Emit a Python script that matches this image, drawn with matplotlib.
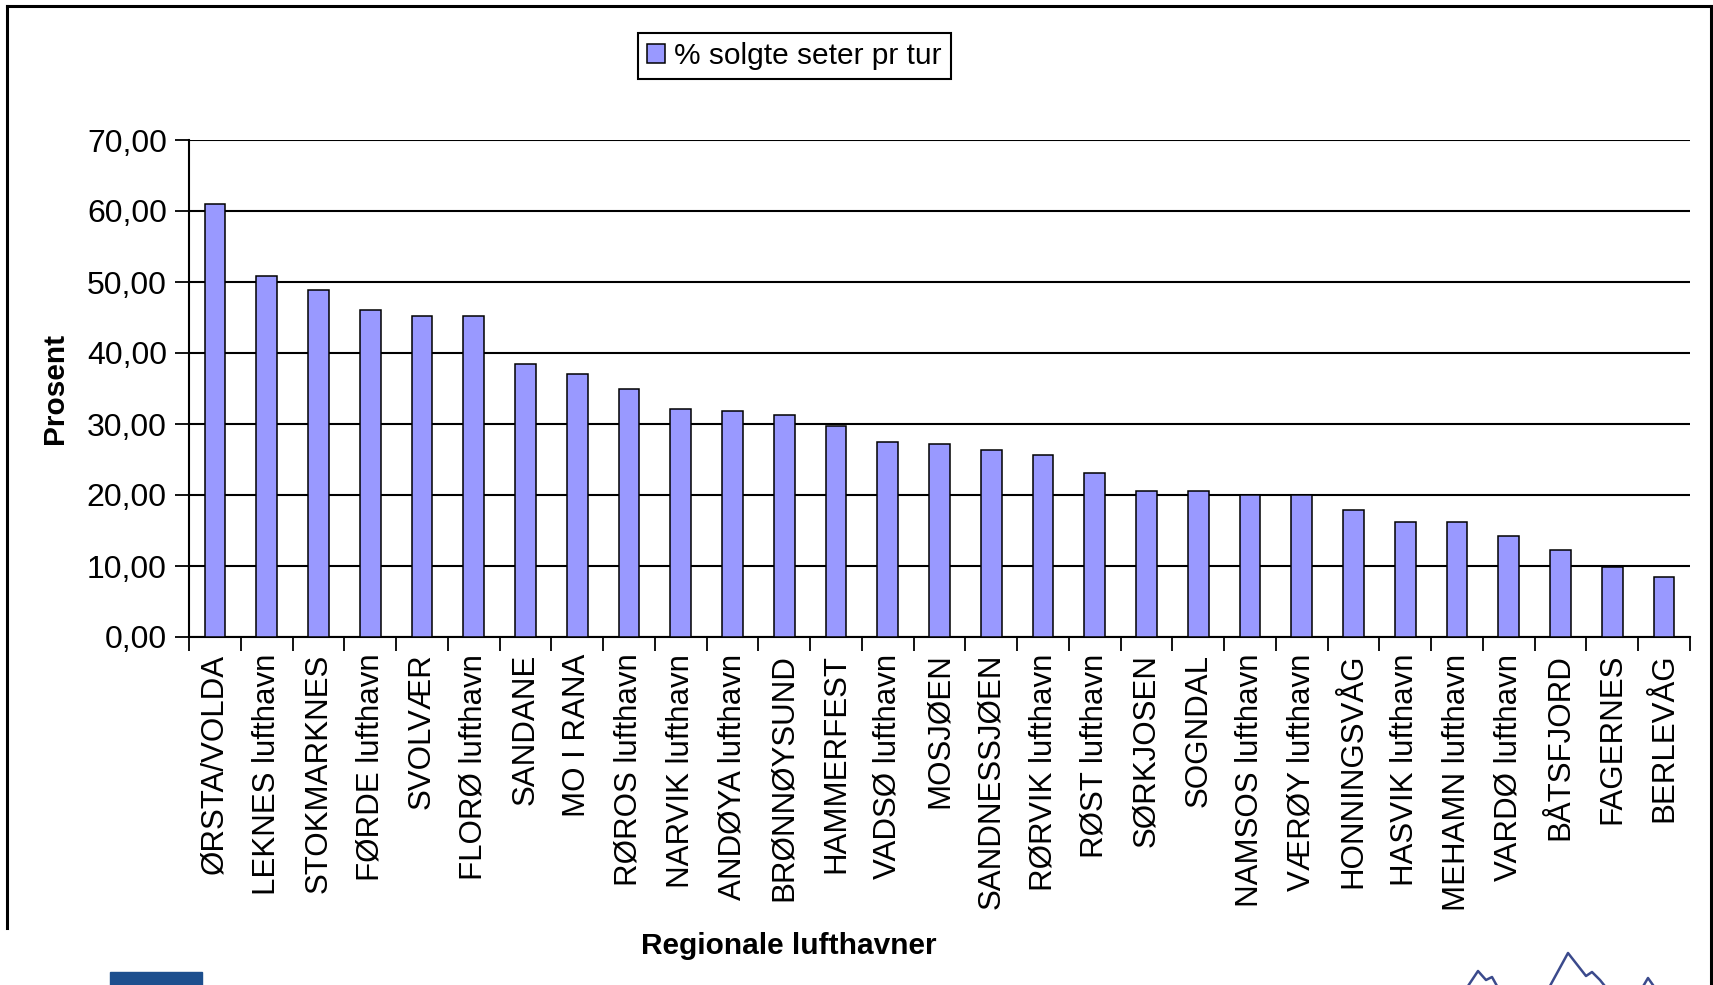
import matplotlib
matplotlib.use("Agg")
import matplotlib.pyplot as plt
from matplotlib.lines import Line2D
from matplotlib.patches import Rectangle
import numpy as np

plt.rcParams['font.family'] = ['Liberation Sans', 'DejaVu Sans']

categories = ["ØRSTA/VOLDA", "LEKNES lufthavn", "STOKMARKNES", "FØRDE lufthavn",
              "SVOLVÆR", "FLORØ lufthavn", "SANDANE", "MO I RANA", "RØROS lufthavn",
              "NARVIK lufthavn", "ANDØYA lufthavn", "BRØNNØYSUND", "HAMMERFEST",
              "VADSØ lufthavn", "MOSJØEN", "SANDNESSJØEN", "RØRVIK lufthavn",
              "RØST lufthavn", "SØRKJOSEN", "SOGNDAL", "NAMSOS lufthavn",
              "VÆRØY lufthavn", "HONNINGSVÅG", "HASVIK lufthavn", "MEHAMN lufthavn",
              "VARDØ lufthavn", "BÅTSFJORD", "FAGERNES", "BERLEVÅG"]
values = [61.0, 50.9, 48.9, 46.1, 45.2, 45.2, 38.4, 37.0, 34.9, 32.1, 31.8, 31.2,
          29.7, 27.5, 27.2, 26.3, 25.7, 23.1, 20.6, 20.5, 20.0, 20.0, 17.9, 16.2,
          16.2, 14.2, 12.2, 9.9, 8.5]
yticks = [0, 10, 20, 30, 40, 50, 60, 70]
ytick_labels = ["0,00", "10,00", "20,00", "30,00", "40,00", "50,00", "60,00", "70,00"]
series_name = "% solgte seter pr tur"
ylabel = "Prosent"
xlabel = "Regionale lufthavner"

W, H = 1713, 985
fig = plt.figure(figsize=(W / 100, H / 100), dpi=100)
ax = fig.add_axes([189 / W, 1 - 637 / H, (1690 - 189) / W, (637 - 140) / H])

x = np.arange(len(categories))
ax.bar(x, values, width=0.4, color="#9999FF", edgecolor="black",
       linewidth=1.1, zorder=3, label=series_name)

ax.set_xlim(-0.5, len(categories) - 0.5)
ax.set_ylim(0, 70)
ax.set_yticks(yticks)
ax.set_yticklabels(ytick_labels, fontsize=23)
ax.yaxis.grid(True, color="black", linewidth=1.5, zorder=0)
ax.set_axisbelow(True)

ax.set_xticks(x)
ax.set_xticklabels(categories, rotation=90, fontsize=22.5, va="top", ha="center")
ax.tick_params(axis="x", which="major", length=0, pad=12)
ax.set_xticks(np.arange(-0.5, len(categories), 1), minor=True)
ax.tick_params(axis="x", which="minor", length=10, width=1.3, direction="out")
ax.tick_params(axis="y", length=10, width=1.3, direction="out", pad=6)

for s in ["top", "right"]:
    ax.spines[s].set_visible(False)
for s in ["left", "bottom"]:
    ax.spines[s].set_linewidth(1.5)

fig.text(55 / W, 1 - 388 / H, ylabel, rotation=90, fontsize=21.5,
         fontweight="bold", ha="center", va="center")
fig.text(789 / W, 1 - 946 / H, xlabel, fontsize=21.5, fontweight="bold",
         ha="center", va="center")

leg = ax.legend(loc="center", bbox_to_anchor=(794.5 / W, 1 - 56 / H),
                bbox_transform=fig.transFigure, fontsize=21.5, frameon=True,
                fancybox=False, edgecolor="black", framealpha=1,
                handlelength=0.6, handleheight=0.6, handletextpad=0.3,
                borderpad=0.3, borderaxespad=0)
leg.get_frame().set_linewidth(1.5)

# chart-area frame
fig.add_artist(Line2D([7 / W, 1711 / W], [1 - 6 / H, 1 - 6 / H], color="black", lw=2.2))
fig.add_artist(Line2D([7 / W, 7 / W], [1 - 6 / H, 1 - 928 / H], color="black", lw=2.2))
fig.add_artist(Line2D([1711 / W, 1711 / W], [1 - 6 / H, 0], color="black", lw=2.2))

# logo fragments at bottom
fig.add_artist(Rectangle((110 / W, 0), 92 / W, 13 / H, color="#1d4f8e",
                         transform=fig.transFigure))
segments = [
    ([1462, 1478, 1486, 1492, 1502], [995, 971, 980, 977, 995]),
    ([1545, 1568, 1586, 1592, 1600, 1612], [995, 953, 976, 972, 980, 995]),
    ([1638, 1648, 1660], [995, 978, 995]),
]
for sx, sy in segments:
    fig.add_artist(Line2D([v / W for v in sx], [1 - v / H for v in sy],
                          color="#3b4a8c", lw=1.8))

fig.savefig("out.png", dpi=100)
